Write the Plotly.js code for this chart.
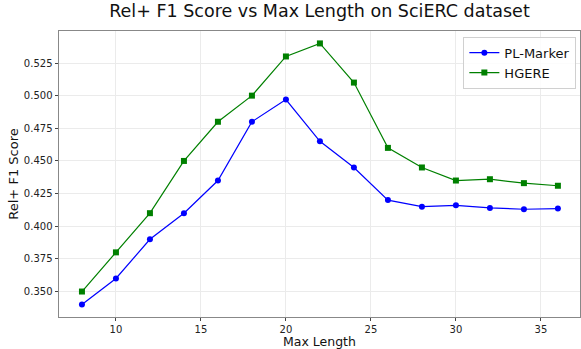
<!DOCTYPE html>
<html><head><meta charset="utf-8">
<script src="https://cdn.plot.ly/plotly-3.0.1.min.js"></script>
<style>html,body{margin:0;padding:0;background:#fff}#chart{width:581px;height:349px}</style>
</head><body><div id="chart"></div>
<script>
const maxLength = [8,10,12,14,16,18,20,22,24,26,28,30,32,34,36];
const plMarker = [0.340,0.360,0.390,0.410,0.435,0.480,0.497,0.465,0.445,0.420,0.415,0.416,0.414,0.413,0.4135];
const hgere = [0.350,0.380,0.410,0.450,0.480,0.500,0.530,0.540,0.510,0.460,0.445,0.435,0.436,0.433,0.431];
const xTicks = [10,15,20,25,30,35];
const yTicks = [0.350,0.375,0.400,0.425,0.450,0.475,0.500,0.525];

const font = "DejaVu Sans, sans-serif";
const traces = [
  {x: maxLength, y: plMarker, name: "PL-Marker", type: "scatter", mode: "lines+markers",
   line: {color: "#0000ff", width: 1.2}, marker: {symbol: "circle", size: 6, color: "#0000ff"}},
  {x: maxLength, y: hgere, name: "HGERE", type: "scatter", mode: "lines+markers",
   line: {color: "#008000", width: 1.2}, marker: {symbol: "square", size: 6, color: "#008000"}}
];
const layout = {
  width: 581, height: 349,
  margin: {l: 59, r: 1, t: 31, b: 32},
  paper_bgcolor: "#fff", plot_bgcolor: "#fff",
  font: {family: font, color: "#222"},
  title: {text: "Rel+ F1 Score vs Max Length on SciERC dataset", font: {size: 17.5, color: "#111"},
          xref: "paper", x: 0.5, xanchor: "center", y: 0.985, yanchor: "top"},
  xaxis: {range: [6.65, 37.3], tickvals: xTicks, ticktext: xTicks.map(String),
          showgrid: true, gridcolor: "#ebebeb", gridwidth: 1, zeroline: false,
          showline: true, mirror: true, linecolor: "#888", linewidth: 1,
          ticks: "outside", ticklen: 2.5, tickcolor: "#444", tickfont: {size: 10, color: "#222"}},
  yaxis: {range: [0.3305, 0.5495], tickvals: yTicks, ticktext: yTicks.map(v => v.toFixed(3)),
          showgrid: true, gridcolor: "#ebebeb", gridwidth: 1, zeroline: false,
          showline: true, mirror: true, linecolor: "#888", linewidth: 1,
          ticks: "outside", ticklen: 3.5, tickcolor: "#444", tickfont: {size: 10, color: "#222"},
          title: {text: "Rel+ F1 Score", font: {size: 13, color: "#111"}, standoff: 2}},
  annotations: [{text: "Max Length", xref: "paper", yref: "paper", x: 0.5, y: -0.115,
                 xanchor: "center", yanchor: "bottom", showarrow: false,
                 font: {size: 12.5, color: "#111"}, borderpad: 0}],
  legend: {x: 0.993, y: 0.98, xanchor: "right", yanchor: "top", bgcolor: "rgba(255,255,255,0.85)",
           bordercolor: "#d0d0d0", borderwidth: 1, font: {size: 13, color: "#111"}, tracegroupgap: 0,
           itemwidth: 30},
  showlegend: true
};
Plotly.newPlot("chart", traces, layout, {displayModeBar: false, staticPlot: true});
</script></body></html>
